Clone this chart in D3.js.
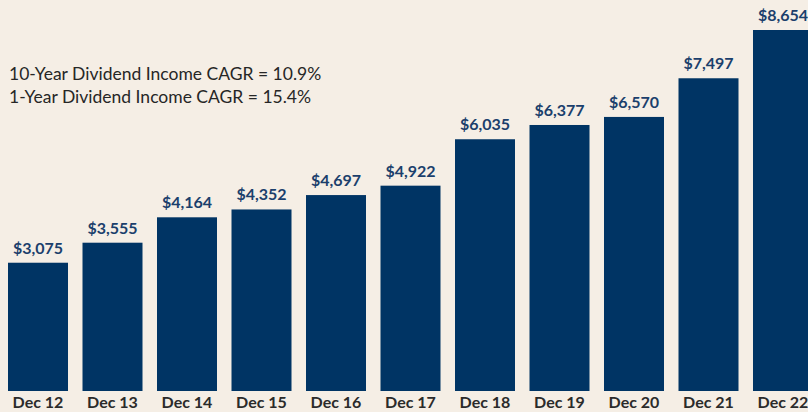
<!DOCTYPE html>
<html>
<head>
<meta charset="utf-8">
<script src="https://cdn.jsdelivr.net/npm/d3@7"></script>
<style>
  html, body { margin: 0; padding: 0; background: #f5eee5; }
  svg { display: block; font-family: Lato, "Open Sans", sans-serif; }
</style>
</head>
<body>
<div id="chart"></div>
<script>
const years = ["Dec 12", "Dec 13", "Dec 14", "Dec 15", "Dec 16", "Dec 17", "Dec 18", "Dec 19", "Dec 20", "Dec 21", "Dec 22"];
const income = [3075, 3555, 4164, 4352, 4697, 4922, 6035, 6377, 6570, 7497, 8654];
const notes = ["10-Year Dividend Income CAGR = 10.9%", "1-Year Dividend Income CAGR = 15.4%"];

const width = 808, height = 412;
const base = 391;

const svg = d3.select("#chart")
  .append("svg")
    .attr("width", width)
    .attr("height", height);

svg.append("rect")
  .attr("width", width)
  .attr("height", height)
  .attr("fill", "#f5eee5");

// x scale - bars 60px wide, 74.5px apart
const x = d3.scaleBand()
  .domain(years)
  .range([8, 813])
  .paddingInner(0.1946)
  .paddingOuter(0)
  .align(0);

// y scale from zero, tallest bar leaves room for its label
const y = d3.scaleLinear()
  .domain([0, d3.max(income)])
  .range([base, 30]);

const data = years.map((d, i) => ({year: d, value: income[i]}));

svg.append("g")
  .selectAll("rect")
  .data(data)
  .enter().append("rect")
    .attr("x", d => x(d.year))
    .attr("y", d => y(d.value))
    .attr("width", x.bandwidth())
    .attr("height", d => base - y(d.value))
    .attr("fill", "#003464");

// value labels
svg.append("g")
  .selectAll("text")
  .data(data)
  .enter().append("text")
    .attr("x", d => x(d.year) + x.bandwidth() / 2)
    .attr("y", d => y(d.value) - 9)
    .attr("text-anchor", "middle")
    .attr("font-size", 16)
    .attr("font-weight", "bold")
    .attr("fill", "#1b3f6c")
    .text(d => "$" + d3.format(",")(d.value));

// x axis labels
svg.append("g")
  .selectAll("text")
  .data(years)
  .enter().append("text")
    .attr("x", d => x(d) + x.bandwidth() / 2)
    .attr("y", 408)
    .attr("text-anchor", "middle")
    .attr("font-size", 16)
    .attr("font-weight", "bold")
    .attr("fill", "#2b2b2b")
    .text(d => d);

// CAGR notes
svg.append("g")
  .selectAll("text")
  .data(notes)
  .enter().append("text")
    .attr("x", 9)
    .attr("y", (d, i) => 80 + i * 23)
    .attr("font-size", 17.5)
    .attr("fill", "#262626")
    .text(d => d);
</script>
</body>
</html>
